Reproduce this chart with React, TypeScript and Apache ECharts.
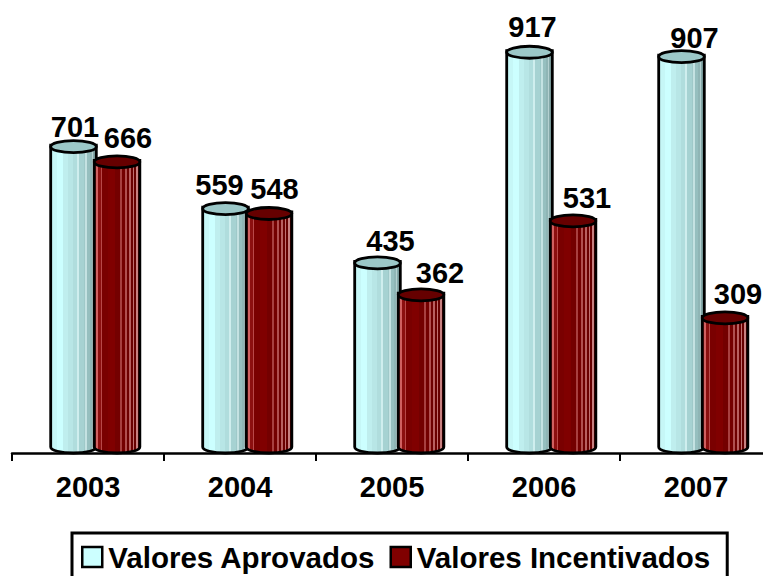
import React, { useEffect, useRef } from "react";
import * as echarts from "echarts";

const categories = ["2003", "2004", "2005", "2006", "2007"];
const aprovados = [701, 559, 435, 917, 907];
const incentivados = [666, 548, 362, 531, 309];
// hand-placed data labels in the reference: horizontal and vertical shift from the top of each bar
const aprovadosLabelShift = [[1.5, -20], [-6, -24], [13, -22], [3, -25], [13, -19]];
const incentivadosLabelShift = [[11, -24], [5.5, -25], [19, -22], [14, -23], [13, -24]];

const FONT = "'Liberation Sans', Arial, sans-serif";

function stops(list: [number, string][]) {
  const out: { offset: number; color: string }[] = [];
  for (let i = 0; i < list.length; i++) {
    out.push({ offset: list[i][0], color: list[i][1] });
    if (i + 1 < list.length) out.push({ offset: list[i + 1][0], color: list[i][1] });
  }
  return out;
}

const cyanBands: [number, string][] = [
  [0, "#c6f7f7"], [0.14, "#ccffff"], [0.26, "#bfeeee"], [0.38, "#b8e6e6"], [0.5, "#b0dddd"],
  [0.58, "#cfeeee"], [0.62, "#a6d2d2"], [0.72, "#9fc9c9"], [0.76, "#c4e2e2"], [0.8, "#96bfbf"],
  [0.86, "#8fb5b5"], [0.9, "#b4d0d0"], [0.93, "#84a8a8"], [0.98, "#7a9c9c"],
];
const redBands: [number, string][] = [
  [0, "#8c1a1a"], [0.04, "#d06060"], [0.08, "#8c0f0f"], [0.14, "#b84848"], [0.18, "#7a0000"],
  [0.3, "#800000"], [0.46, "#740000"], [0.56, "#a84040"], [0.6, "#740000"], [0.68, "#b05050"],
  [0.71, "#6e0000"], [0.77, "#b86060"], [0.8, "#6a0000"], [0.85, "#c07070"], [0.88, "#660000"],
  [0.92, "#c88080"], [0.95, "#600000"],
];

function cylinder(offset: number, bands: [number, string][], topColor: string, shifts: number[][]) {
  return (params: any, api: any) => {
    const idx = api.value(0);
    const val = api.value(1);
    const top = api.coord([idx, val]);
    const base = api.coord([idx, 0]);
    const band = api.size([1, 0])[0];
    const w = band * 0.3;
    const rx = w / 2;
    const ry = 6;
    const cx = top[0] + band * offset;
    const x0 = cx - rx;
    const x1 = cx + rx;
    const yt = top[1];
    const yb = base[1] - 3;
    const d = `M${x0} ${yt}L${x0} ${yb}A${rx} ${ry} 0 0 0 ${x1} ${yb}L${x1} ${yt}A${rx} ${ry} 0 0 1 ${x0} ${yt}Z`;
    const stroke = { stroke: "#000", lineWidth: 2.8 };
    const [dx, dy] = shifts[idx];
    return {
      type: "group",
      children: [
        {
          type: "path",
          layout: "cover",
          shape: { pathData: d, x: x0, y: yt - ry, width: x1 - x0, height: yb + ry - (yt - ry) },
          style: {
            fill: new echarts.graphic.LinearGradient(0, 0, 1, 0, stops(bands)),
            ...stroke,
          },
        },
        {
          type: "ellipse",
          shape: { cx, cy: yt, rx, ry },
          style: { fill: topColor, ...stroke },
        },
        {
          type: "text",
          style: {
            x: cx + dx,
            y: yt + dy,
            text: String(val),
            fill: "#000",
            font: `bold 29px ${FONT}`,
            align: "center",
            verticalAlign: "middle",
          },
        },
      ],
    };
  };
}

export default function App() {
  const ref = useRef<HTMLDivElement>(null);
  useEffect(() => {
    const chart = echarts.init(ref.current!, undefined, { renderer: "svg" });
    chart.setOption({
      animation: false,
      backgroundColor: "#fff",
      grid: { left: 12, top: 16, width: 760, height: 437, containLabel: false },
      xAxis: {
        type: "category",
        data: categories,
        boundaryGap: true,
        axisLine: { lineStyle: { color: "#000", width: 2.5 } },
        axisTick: { show: true, length: 8, lineStyle: { color: "#000", width: 2 } },
        axisLabel: {
          color: "#000",
          fontFamily: FONT,
          fontWeight: "bold",
          fontSize: 29,
          margin: 19,
          interval: 0,
        },
        z: 5,
      },
      yAxis: { type: "value", min: 0, max: 1000, show: false, splitLine: { show: false } },
      legend: {
        left: 72,
        top: 533,
        padding: [9, 17, 12, 9],
        itemGap: 14,
        itemWidth: 20,
        itemHeight: 20,
        borderColor: "#000",
        borderWidth: 3,
        backgroundColor: "#fff",
        icon: "rect",
        textStyle: {
          color: "#000",
          fontFamily: FONT,
          fontWeight: "bold",
          fontSize: 29.5,
          padding: [0, 0, 0, 1],
        },
        data: [
          { name: "Valores Aprovados", itemStyle: { color: "#ccffff", borderColor: "#000", borderWidth: 2.5 } },
          { name: "Valores Incentivados", itemStyle: { color: "#800000", borderColor: "#000", borderWidth: 2.5 } },
        ],
      },
      series: [
        {
          type: "custom",
          name: "Valores Aprovados",
          clip: false,
          itemStyle: { color: "#ccffff" },
          renderItem: cylinder(-0.0954, cyanBands, "#9cc8c8", aprovadosLabelShift),
          encode: { x: 0, y: 1 },
          data: aprovados.map((v, i) => [i, v]),
          z: 2,
        },
        {
          type: "custom",
          name: "Valores Incentivados",
          clip: false,
          itemStyle: { color: "#800000" },
          renderItem: cylinder(0.191, redBands, "#660000", incentivadosLabelShift),
          encode: { x: 0, y: 1 },
          data: incentivados.map((v, i) => [i, v]),
          z: 3,
        },
      ],
    });
    return () => chart.dispose();
  }, []);
  return (
    <div style={{ position: "fixed", left: 0, top: 0, width: 763, height: 576, overflow: "hidden" }}>
      <div ref={ref} style={{ width: 800, height: 620 }} />
    </div>
  );
}
